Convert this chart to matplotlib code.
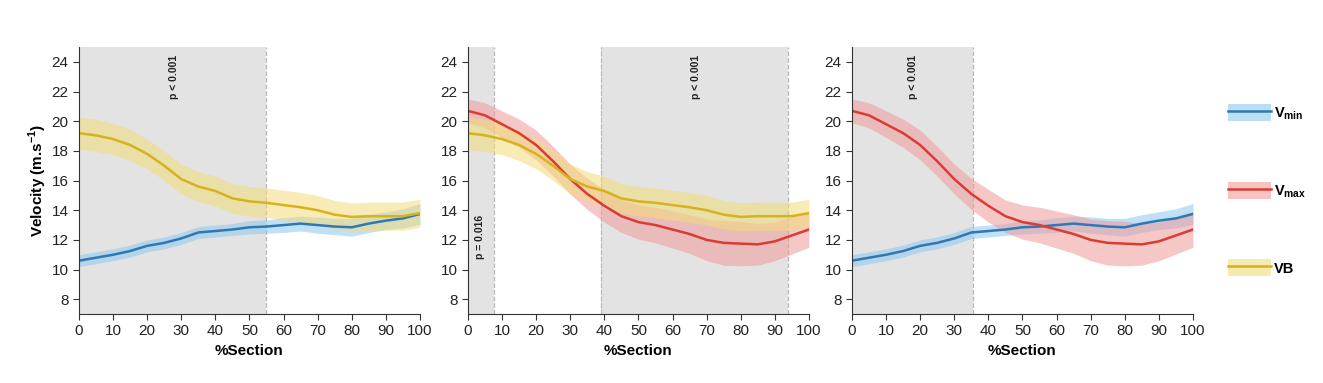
"""Velocity profiles along the section: Vmin, Vmax and VB, three pairwise panels."""

import matplotlib
matplotlib.use('Agg')
import matplotlib.pyplot as plt
from matplotlib.lines import Line2D
from matplotlib.patches import Patch
import numpy as np

plt.rcParams['font.family'] = ['Liberation Sans', 'DejaVu Sans']
plt.rcParams['mathtext.fontset'] = 'custom'
plt.rcParams['mathtext.rm'] = 'Liberation Sans'
plt.rcParams['mathtext.bf'] = 'Liberation Sans:bold'

# %Section positions
section = [0, 5, 10, 15, 20, 25, 30, 35, 40, 45, 50, 55, 60, 65, 70, 75, 80, 85, 90, 95, 100]

# mean velocities (m/s)
vmin = [10.6, 10.8, 11.0, 11.25, 11.6, 11.8, 12.1, 12.5, 12.6, 12.7, 12.85, 12.9,
        13.0, 13.1, 13.0, 12.9, 12.85, 13.1, 13.3, 13.45, 13.75]
vmax = [20.7, 20.4, 19.8, 19.2, 18.4, 17.3, 16.1, 15.1, 14.3, 13.6, 13.2, 13.0,
        12.7, 12.4, 12.0, 11.8, 11.75, 11.7, 11.9, 12.3, 12.7]
vb = [19.2, 19.05, 18.8, 18.4, 17.8, 17.0, 16.1, 15.6, 15.3, 14.8, 14.6, 14.5,
      14.35, 14.2, 14.0, 13.7, 13.55, 13.6, 13.6, 13.6, 13.8]

# standard deviations (shaded band half-width)
vmin_sd = [0.4, 0.4, 0.4, 0.4, 0.4, 0.4, 0.4, 0.4, 0.4, 0.4, 0.45, 0.45, 0.5, 0.5,
           0.55, 0.55, 0.6, 0.6, 0.6, 0.65, 0.7]
vmax_sd = [0.8, 0.85, 0.9, 0.95, 1.0, 1.0, 1.0, 1.05, 1.1, 1.1, 1.15, 1.2, 1.25,
           1.3, 1.4, 1.5, 1.5, 1.4, 1.3, 1.25, 1.2]
vb_sd = [1.1, 1.1, 1.05, 1.05, 1.0, 1.0, 1.0, 1.0, 1.0, 1.0, 1.0, 1.0, 1.0, 1.0,
         1.0, 0.95, 0.95, 0.95, 0.95, 0.95, 0.95]

# significant regions per panel: (start, end, label, label_x, label_y)
panel_series = [("vmin", "vb"), ("vmax", "vb"), ("vmin", "vmax")]
panel_regions = [
    [(0, 55, "p < 0.001", 28, 23.0)],
    [(0, 7.5, "p = 0.016", 3.5, 12.2), (39, 94, "p < 0.001", 67, 23.0)],
    [(0, 35.5, "p < 0.001", 18, 23.0)],
]

series = {
    "vmin": (vmin, vmin_sd, "#2f78b4", "#8cc8ee", r"$\mathbf{V_{min}}$"),
    "vmax": (vmax, vmax_sd, "#d93c35", "#f09a9a", r"$\mathbf{V_{max}}$"),
    "vb": (vb, vb_sd, "#d6b21c", "#f3dc78", "VB"),
}

fig = plt.figure(figsize=(13.23, 3.83), dpi=100)
lefts = [0.0597, 0.3537, 0.644]

for i, left in enumerate(lefts):
    ax = fig.add_axes([left, 0.180, 0.2577, 0.697])
    for start, end, label, lx, ly in panel_regions[i]:
        ax.axvspan(start, end, color="#e3e3e3", lw=0, zorder=0)
        for edge in (start, end):
            if 0 < edge < 100:
                ax.axvline(edge, color="#b8b8b8", ls="--", lw=0.9, zorder=0.5)
        ax.text(lx, ly, label, rotation=90, ha="center", va="center",
                fontsize=7.5, fontweight="bold", color="#222222")
    for key in panel_series[i]:
        mean, sd, line_c, band_c, _ = series[key]
        mean = np.array(mean)
        sd = np.array(sd)
        ax.fill_between(section, mean - sd, mean + sd, color=band_c, alpha=0.55,
                        lw=0, zorder=1)
        ax.plot(section, mean, color=line_c, lw=1.8, zorder=2)

    ax.set_xlim(0, 100)
    ax.set_ylim(7, 25)
    ax.set_xticks(range(0, 101, 10))
    ax.set_yticks(range(8, 25, 2))
    ax.tick_params(labelsize=11, length=4, color="#333333", labelcolor="#222222")
    for side in ("top", "right"):
        ax.spines[side].set_visible(False)
    for side in ("left", "bottom"):
        ax.spines[side].set_color("#333333")
    ax.set_xlabel("%Section", fontsize=11, fontweight="bold", labelpad=4)
    if i == 0:
        ax.set_ylabel(r"Velocity (m.s$^{\mathbf{-1}}$)", fontsize=11,
                      fontweight="bold", labelpad=2)

handles = []
labels = []
for key in ("vmin", "vmax", "vb"):
    _, _, line_c, band_c, lab = series[key]
    handles.append((Patch(color=band_c, alpha=0.6, lw=0),
                    Line2D([], [], color=line_c, lw=1.8)))
    labels.append(lab)

fig.legend(handles, labels, loc="center left", bbox_to_anchor=(0.918, 0.503),
           frameon=False, handlelength=3.0, handleheight=1.4, handletextpad=0.2,
           labelspacing=4.1, prop={"size": 10.5, "weight": "bold"})

fig.savefig("out.png", dpi=100)
